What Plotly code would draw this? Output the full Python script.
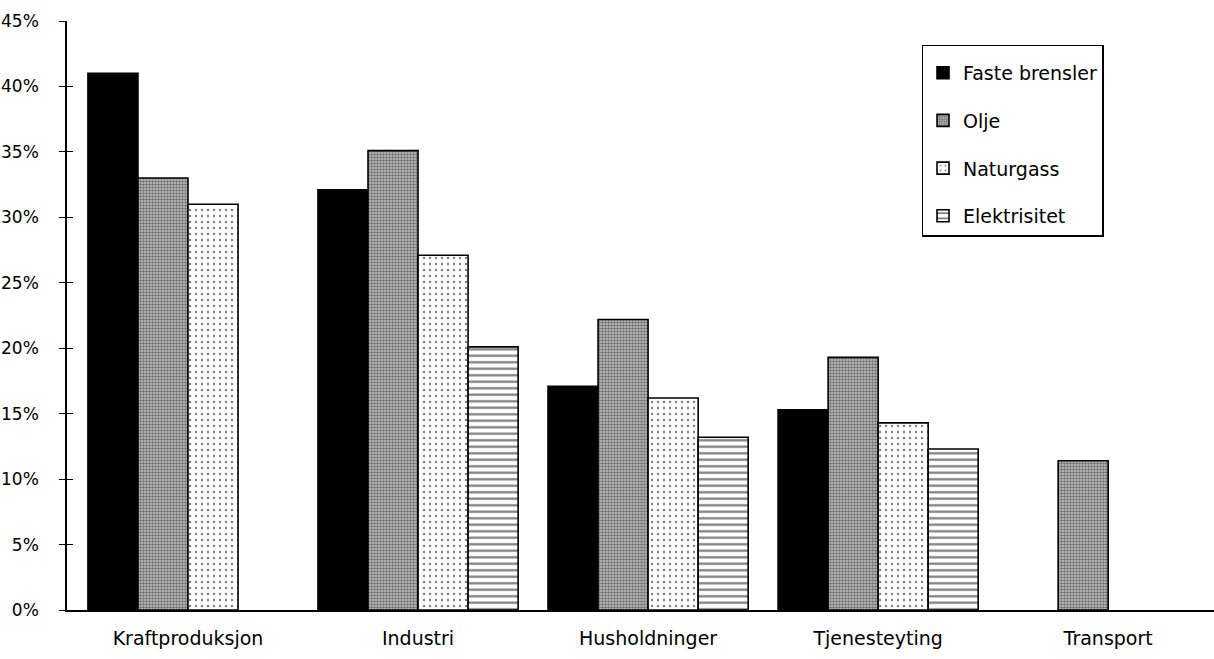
import plotly.graph_objects as go

categories = ["Kraftproduksjon", "Industri", "Husholdninger", "Tjenesteyting", "Transport"]
faste_brensler = [41.0, 32.1, 17.1, 15.3, None]
olje = [33.0, 35.1, 22.2, 19.3, 11.4]
naturgass = [31.0, 27.1, 16.2, 14.3, None]
elektrisitet = [None, 20.1, 13.2, 12.3, None]
y_ticks = [0, 5, 10, 15, 20, 25, 30, 35, 40, 45]
y_tick_labels = ["0%", "5%", "10%", "15%", "20%", "25%", "30%", "35%", "40%", "45%"]

FONT = "DejaVu Sans"
outline = dict(color="black", width=1.6)

series = [
    ("Faste brensler", faste_brensler,
     dict(color="black", line=outline)),
    ("Olje", olje,
     dict(color="#8a8a8a", line=outline,
          pattern=dict(shape=".", size=3, solidity=0.55, fgcolor="#202020", bgcolor="#c4c4c4", fillmode="overlay"))),
    ("Naturgass", naturgass,
     dict(color="white", line=outline,
          pattern=dict(shape=".", size=6, solidity=0.12, fgcolor="black", bgcolor="white", fillmode="overlay"))),
    ("Elektrisitet", elektrisitet,
     dict(color="white", line=outline,
          pattern=dict(shape="-", size=6.5, solidity=0.35, fgcolor="black", bgcolor="white", fillmode="overlay"))),
]

fig = go.Figure()
for i, (name, vals, marker) in enumerate(series):
    fig.add_trace(go.Bar(x=categories, y=vals, name=name, marker=marker,
                         legendgroup=f"g{i}"))

# second y axis carries the inner half of the crossing tick marks
fig.add_trace(go.Scatter(x=categories, y=[None] * len(categories), yaxis="y2",
                         showlegend=False, hoverinfo="skip"))

fig.update_layout(
    width=1214, height=659,
    margin=dict(l=67, r=0, t=21, b=49),
    paper_bgcolor="white", plot_bgcolor="white",
    barmode="group", bargap=0.13, bargroupgap=0.0,
    font=dict(family=FONT, size=16, color="black"),
    xaxis=dict(
        type="category", range=[-0.526, 4.46],
        showline=True, linecolor="black", linewidth=1.5,
        ticks="", showgrid=False, zeroline=False,
        tickfont=dict(size=19), ticklabelstandoff=10,
    ),
    yaxis=dict(
        range=[0, 45], tickvals=y_ticks, ticktext=y_tick_labels,
        showline=True, linecolor="black", linewidth=1.5,
        ticks="outside", ticklen=6, tickwidth=1.3, tickcolor="black",
        showgrid=False, zeroline=False, ticklabelstandoff=17,
        tickfont=dict(size=17),
    ),
    yaxis2=dict(
        overlaying="y", side="left", range=[0, 45], tickvals=y_ticks,
        showticklabels=False, ticks="inside", ticklen=6, tickwidth=1.3,
        tickcolor="black", showgrid=False, zeroline=False, showline=False,
    ),
    legend=dict(
        x=0.745, y=0.96, xanchor="left", yanchor="top",
        bordercolor="black", borderwidth=1.5, bgcolor="white",
        font=dict(size=19), tracegroupgap=20, itemwidth=30,
        traceorder="grouped",
        title=dict(text=" ", font=dict(size=6)),
    ),
)

fig.write_html("out.html")
